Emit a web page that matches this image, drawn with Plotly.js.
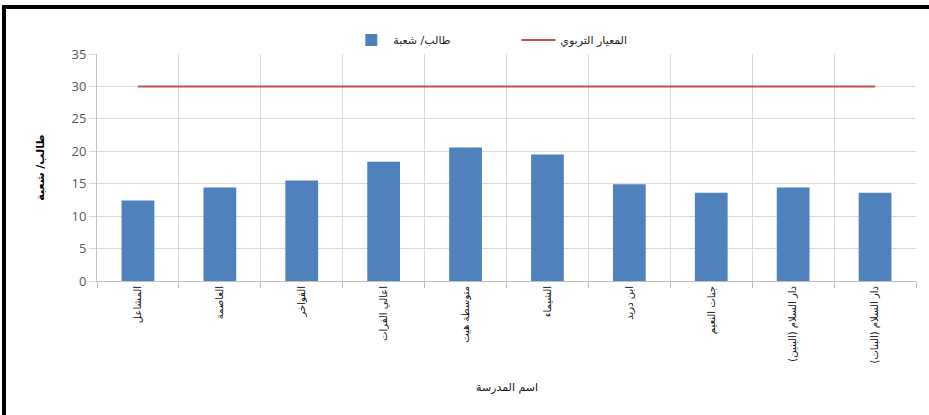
<!DOCTYPE html>
<html>
<head>
<meta charset="utf-8">
<script src="https://cdn.plot.ly/plotly-3.0.1.min.js"></script>
<style>
  html, body { margin: 0; padding: 0; background: #fff; }
  #chart { width: 929px; height: 415px; }
  #frame { position: absolute; left: 2px; top: 5px; width: 940px; height: 420px;
           border-left: 4px solid #000; border-top: 4px solid #000; pointer-events: none; }
</style>
</head>
<body>
<div id="chart"></div>
<div id="frame"></div>
<script>
const schools = ["المشاعل", "العاصمة", "الفواخر", "اعالي الفرات", "متوسطة هيت",
                 "الشيماء", "ابن دريد", "جنات النعيم", "دار السلام (البنين)", "دار السلام (البنات)"];
const studentsPerClass = [12.4, 14.4, 15.5, 18.4, 20.6, 19.5, 14.9, 13.6, 14.4, 13.6];
const standard = [30, 30, 30, 30, 30, 30, 30, 30, 30, 30];
const seriesNames = ["طالب/ شعبة", "المعيار التربوي"];
const yTitle = "طالب/ شعبة";
const xTitle = "اسم المدرسة";

const FONT = "Calibri, Carlito, 'Open Sans', 'DejaVu Sans', sans-serif";

const traces = [
  {
    type: "bar", x: schools, y: studentsPerClass, name: seriesNames[0],
    marker: { color: "#4f81bd" }
  },
  {
    type: "scatter", mode: "lines", x: schools, y: standard, name: seriesNames[1],
    line: { color: "#c0504d", width: 2 }
  }
];

const layout = {
  width: 929, height: 415,
  margin: { l: 97, r: 13, t: 54, b: 134 },
  paper_bgcolor: "#fff", plot_bgcolor: "#fff",
  font: { family: FONT, color: "#000" },
  bargap: 0.6,
  showlegend: true,
  legend: {
    orientation: "h", x: 0.512, xanchor: "center", y: 1.062, yanchor: "middle",
    font: { size: 11, color: "#222", family: "'DejaVu Sans', sans-serif" },
    itemwidth: 34, entrywidth: 118, traceorder: "normal"
  },
  xaxis: {
    type: "category",
    tickson: "boundaries",
    showgrid: true, gridcolor: "#d9d9d9", gridwidth: 1,
    showline: true, linecolor: "#bfbfbf", linewidth: 1,
    ticks: "outside", ticklen: 6, tickcolor: "#bfbfbf",
    tickangle: -90,
    tickfont: { size: 10, color: "#111", family: "'DejaVu Sans', sans-serif" },
    mirror: false, zeroline: false
  },
  yaxis: {
    range: [0, 35], dtick: 5, tick0: 0,
    showgrid: true, gridcolor: "#d9d9d9", gridwidth: 1,
    showline: true, linecolor: "#bfbfbf", linewidth: 1,
    ticks: "outside", ticklen: 7, tickcolor: "#d9d9d9",
    tickfont: { size: 13, color: "#595959", family: "'Open Sans', 'DejaVu Sans', sans-serif" },
    zeroline: false,
    title: { text: yTitle, standoff: 24,
             font: { size: 11, color: "#000", family: "'DejaVu Sans', sans-serif", weight: "bold" } }
  },
  annotations: [
    {
      text: xTitle, xref: "paper", yref: "paper", x: 0.5, y: -0.471,
      xanchor: "center", yanchor: "middle", showarrow: false,
      font: { size: 11, color: "#111", family: "'DejaVu Sans', sans-serif" }
    }
  ]
};

Plotly.newPlot("chart", traces, layout, { displayModeBar: false, staticPlot: true });
</script>
</body>
</html>
